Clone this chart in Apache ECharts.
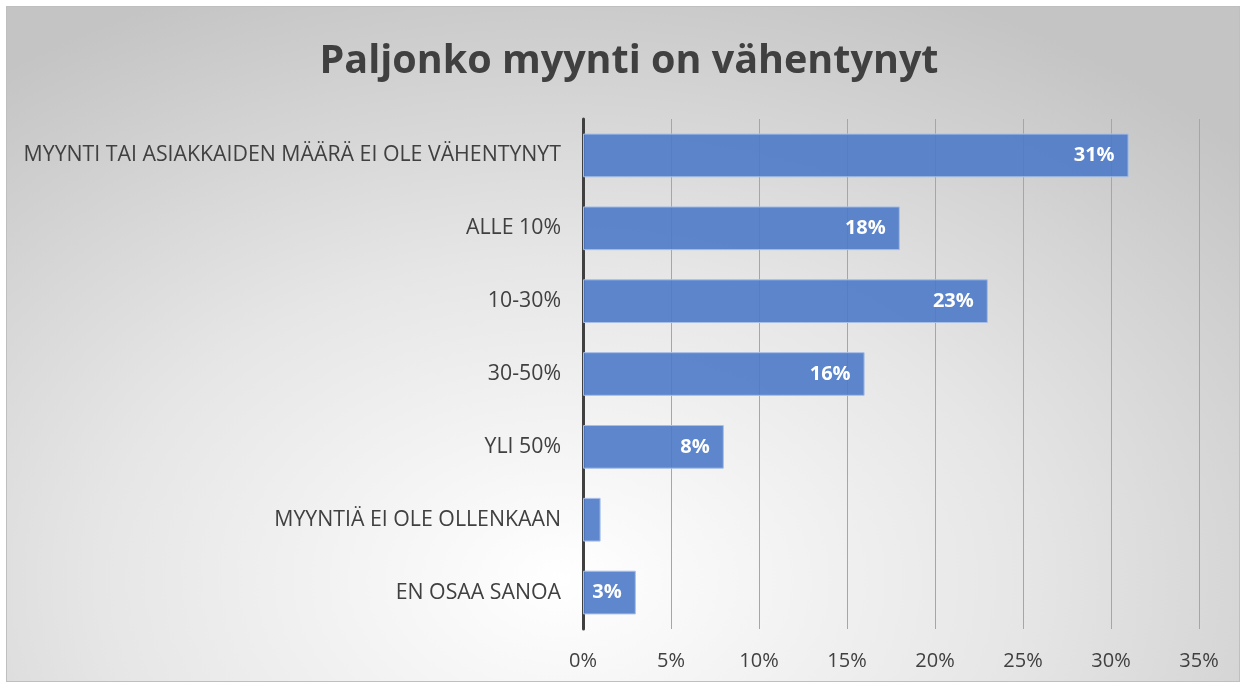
<!DOCTYPE html>
<html>
<head>
<meta charset="utf-8">
<script src="https://cdn.jsdelivr.net/npm/echarts@6/dist/echarts.min.js"></script>
<style>
  html, body { margin: 0; padding: 0; background: #fff; }
  #chart {
    position: absolute; left: 6px; top: 6px; width: 1232px; height: 674px;
    border: 1px solid #bfbfbf;
    background: radial-gradient(ellipse 75% 95% at 45% 85%, #ffffff 0%, #e6e6e6 50%, #c4c4c4 100%);
  }
</style>
</head>
<body>
<div id="chart"></div>
<script>
const categories = [
  "MYYNTI TAI ASIAKKAIDEN MÄÄRÄ EI OLE VÄHENTYNYT",
  "ALLE 10%",
  "10-30%",
  "30-50%",
  "YLI 50%",
  "MYYNTIÄ EI OLE OLLENKAAN",
  "EN OSAA SANOA"
];
const values = [31, 18, 23, 16, 8, 1, 3];
const xTicks = [0, 5, 10, 15, 20, 25, 30, 35];

const chart = echarts.init(document.getElementById("chart"));
chart.setOption({
  title: {
    text: "Paljonko myynti on vähentynyt",
    left: 617,
    textAlign: "center",
    top: 30,
    textStyle: { fontFamily: "Open Sans", fontWeight: "bold", fontSize: 39.5, color: "#404040" }
  },
  grid: { left: 576, right: 40, top: 112, bottom: 52 },
  xAxis: {
    type: "value",
    min: xTicks[0],
    max: xTicks[xTicks.length - 1],
    interval: 5,
    axisLine: { show: false },
    axisTick: { show: false },
    splitLine: { show: true, lineStyle: { color: "#a6a6a6", width: 1 } },
    axisLabel: {
      formatter: v => v + "%",
      fontFamily: "Open Sans",
      fontSize: 20,
      color: "#404040",
      margin: 22
    }
  },
  yAxis: {
    type: "category",
    inverse: true,
    data: categories,
    axisLine: { show: true, lineStyle: { color: "#404040", width: 3 } },
    axisTick: { show: false },
    axisLabel: {
      fontFamily: "Open Sans",
      fontSize: 21.3,
      color: "#404040",
      margin: 22
    }
  },
  series: [{
    type: "bar",
    data: values,
    barWidth: "60%",
    itemStyle: { color: "rgba(77,122,201,0.9)", borderColor: "#a7bfe8", borderWidth: 1 },
    label: {
      show: true,
      position: "insideRight",
      distance: 14,
      formatter: p => (p.value >= 2 ? p.value + "%" : ""),
      fontFamily: "Open Sans",
      fontWeight: "bold",
      fontSize: 20,
      color: "#ffffff"
    },
    z: 3
  }]
});
</script>
</body>
</html>
